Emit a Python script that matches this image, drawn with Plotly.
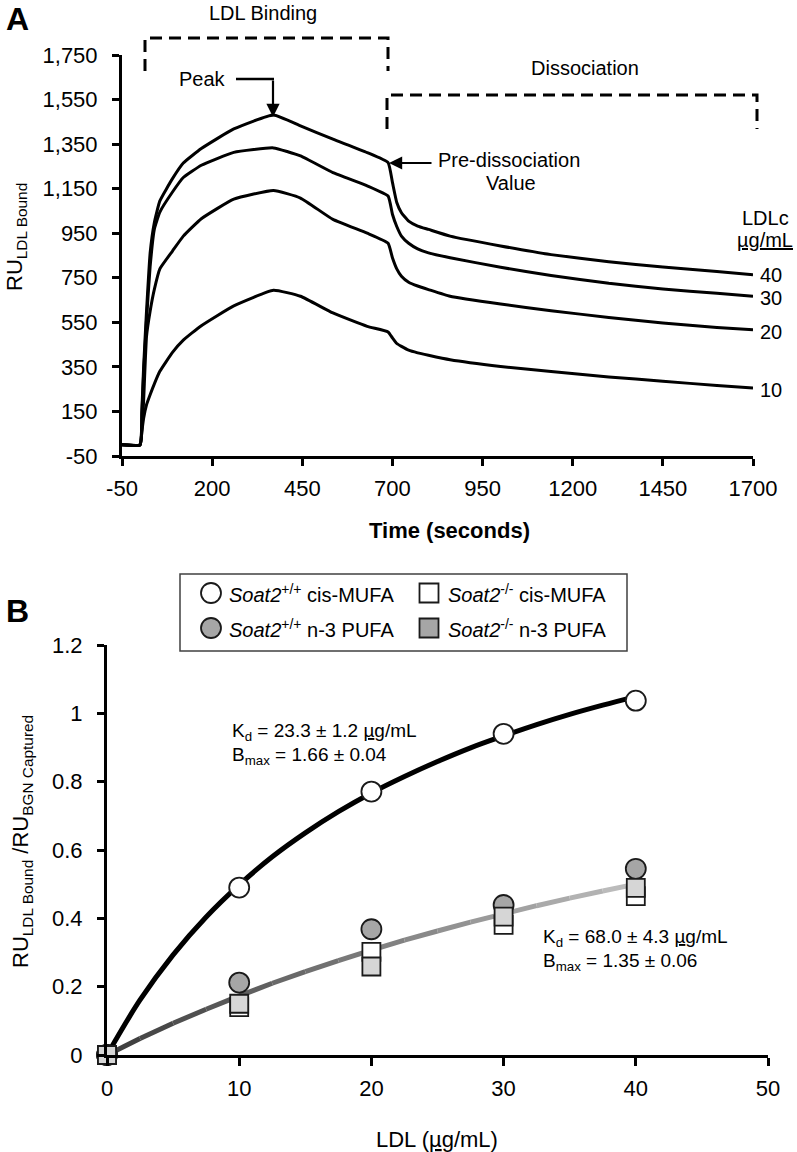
import plotly.graph_objects as go

# ---------------- Panel A data (SPR sensorgrams) ----------------
time_s = [-50, 0, 5, 10, 18, 28, 40, 55, 90, 120, 170, 260, 370, 445, 535, 630, 688,
          700, 712, 725, 745, 770, 800, 860, 1000, 1140, 1300, 1450, 1600, 1700]
ru_40 = [0, 0, 150, 350, 600, 860, 1000, 1095, 1195, 1265, 1330, 1418, 1481, 1432, 1372, 1312, 1267,
         1178, 1088, 1042, 1004, 982, 967, 937, 893, 854, 822, 798, 778, 764]
ru_30 = [0, 0, 130, 320, 560, 800, 970, 1045, 1135, 1200, 1255, 1313, 1333, 1297, 1222, 1163, 1117,
         1035, 980, 937, 905, 880, 862, 840, 797, 760, 725, 700, 680, 667]
ru_20 = [0, 0, 60, 200, 487, 600, 700, 790, 870, 937, 1015, 1103, 1142, 1108, 1012, 950, 905,
         840, 790, 757, 730, 713, 697, 667, 632, 602, 572, 547, 527, 517]
ru_10 = [0, 0, 60, 120, 180, 225, 275, 330, 415, 470, 535, 624, 694, 667, 592, 532, 507,
         480, 455, 442, 425, 413, 402, 382, 352, 329, 305, 286, 266, 255]
conc_labels = ["40", "30", "20", "10"]

time_ticks = [-50, 200, 450, 700, 950, 1200, 1450, 1700]
time_ticktext = ["-50", "200", "450", "700", "950", "1200", "1450", "1700"]
ru_ticks = [-50, 150, 350, 550, 750, 950, 1150, 1350, 1550, 1750]
ru_ticktext = ["-50", "150", "350", "550", "750", "950", "1,150", "1,350", "1,550", "1,750"]

# ---------------- Panel B data (binding) ----------------
ldl = [0, 10, 20, 30, 40]
wt_mufa = [0, 0.49, 0.771, 0.94, 1.037]
wt_pufa = [0, 0.212, 0.368, 0.439, 0.545]
ko_mufa = [0, 0.14, 0.302, 0.381, 0.465]
ko_pufa = [0, 0.15, 0.259, 0.405, 0.489]

fit_x = [0, 2.5, 5, 7.5, 10, 12.5, 15, 17.5, 20, 22.5, 25, 27.5, 30, 32.5, 35, 37.5, 40]
fit_wt = [0, 0.161, 0.293, 0.404, 0.498, 0.580, 0.650, 0.712, 0.767, 0.815, 0.859,
          0.899, 0.934, 0.967, 0.997, 1.024, 1.049]
fit_ko = [0, 0.048, 0.093, 0.134, 0.173, 0.210, 0.244, 0.276, 0.307, 0.336, 0.363,
          0.389, 0.413, 0.437, 0.459, 0.480, 0.500]

W, H = 797, 1152
FONT = "Liberation Sans, Arial, sans-serif"


def px(x):
    return x / W


def py(y):
    return 1 - y / H


fig = go.Figure()

# Panel A curves
for vals in [ru_40, ru_30, ru_20, ru_10]:
    fig.add_trace(go.Scatter(x=time_s, y=vals, mode="lines",
                             line=dict(color="black", width=3, shape="spline", smoothing=0.4),
                             xaxis="x", yaxis="y", showlegend=False, hoverinfo="skip"))

# Panel B fitted curves
fig.add_trace(go.Scatter(x=fit_x, y=fit_wt, mode="lines",
                         line=dict(color="black", width=5, shape="spline"),
                         xaxis="x2", yaxis="y2", showlegend=False, hoverinfo="skip"))
n = len(fit_x)
for i in range(n - 1):
    f = i / (n - 2)
    g = int(0x40 + f * (0xbb - 0x40))
    col = "rgb(%d,%d,%d)" % (g, g, g)
    fig.add_trace(go.Scatter(x=fit_x[i:i + 2], y=fit_ko[i:i + 2], mode="lines",
                             line=dict(color=col, width=5),
                             xaxis="x2", yaxis="y2", showlegend=False, hoverinfo="skip"))

marker_specs = [
    (wt_mufa, "circle", "white", 20),
    (wt_pufa, "circle", "#a6a6a6", 20),
    (ko_mufa, "square", "white", 18),
    (ko_pufa, "square", "#d6d6d6", 18),
]
for vals, sym, colr, sz in marker_specs:
    fig.add_trace(go.Scatter(x=ldl, y=vals, mode="markers", cliponaxis=False,
                             marker=dict(symbol=sym, size=sz, color=colr,
                                         line=dict(color="#1a1a1a", width=1.8)),
                             xaxis="x2", yaxis="y2", showlegend=False, hoverinfo="skip"))

axis_common = dict(showline=True, linecolor="black", ticks="outside", tickcolor="black",
                   showgrid=False, zeroline=False, automargin=False,
                   tickfont=dict(family=FONT, size=22, color="black"))

fig.update_layout(
    template="none",
    width=W, height=H, autosize=False, margin=dict(l=0, r=0, t=0, b=0, pad=0, autoexpand=False),
    paper_bgcolor="white", plot_bgcolor="white", showlegend=False,
    font=dict(family=FONT, color="black"),
    xaxis=dict(domain=[px(122), px(753)], range=[-50, 1700], anchor="y",
               tickmode="array", tickvals=time_ticks, ticktext=time_ticktext,
               linewidth=3, ticklen=7, tickwidth=2.5, ticklabelstandoff=4, **axis_common),
    yaxis=dict(domain=[py(456), py(55)], range=[-50, 1750], anchor="x",
               tickmode="array", tickvals=ru_ticks, ticktext=ru_ticktext,
               linewidth=3, ticklen=7, tickwidth=2.5, ticklabelstandoff=10, **axis_common),
    xaxis2=dict(domain=[px(107), px(768)], range=[0, 50], anchor="y2",
                tickmode="linear", tick0=0, dtick=10,
                linewidth=3, ticklen=8, tickwidth=2.5, ticklabelstandoff=4, **axis_common),
    yaxis2=dict(domain=[py(1055), py(645)], range=[0, 1.2], anchor="x2",
                tickmode="linear", tick0=0, dtick=0.2,
                linewidth=3, ticklen=7, tickwidth=2.5, ticklabelstandoff=10, **axis_common),
)

ann = []


def txt(x, y, text, size=20, xanchor="center", yanchor="middle", textangle=0):
    ann.append(dict(x=px(x), y=py(y), xref="paper", yref="paper", text=text, showarrow=False,
                    xanchor=xanchor, yanchor=yanchor, textangle=textangle,
                    font=dict(family=FONT, size=size, color="black")))


# Panel letters
txt(17, 19, "<b>A</b>", size=32)
txt(17, 611, "<b>B</b>", size=32)

# Panel A texts
txt(263, 13, "LDL Binding", size=20)
txt(585, 68, "Dissociation", size=20)
txt(202, 79, "Peak", size=20)
txt(436, 160, "Pre-dissociation", size=20, xanchor="left")
txt(511, 183, "Value", size=20)
txt(765, 218, "LDLc", size=20)
txt(765, 240, "<u>µg/mL</u>", size=20)
for lab, yy in zip(conc_labels, [275, 298, 332, 390]):
    txt(758, yy, lab, size=20, xanchor="left")
txt(449, 530, "<b>Time (seconds)</b>", size=22)
txt(16, 237, "RU<sub>LDL Bound</sub>", size=22, textangle=-90)

# Arrows
ann.append(dict(x=px(273), y=py(117), xref="paper", yref="paper", text="", showarrow=True,
                ax=0, ay=-38, axref="pixel", ayref="pixel", arrowhead=2, arrowsize=1.2,
                arrowwidth=2.2, arrowcolor="black", standoff=0, startstandoff=0))
ann.append(dict(x=px(389), y=py(163), xref="paper", yref="paper", text="", showarrow=True,
                ax=44, ay=0, axref="pixel", ayref="pixel", arrowhead=2, arrowsize=1.2,
                arrowwidth=2.2, arrowcolor="black", standoff=0, startstandoff=0))

# Panel B texts
txt(230, 732, "K<sub>d</sub> = 23.3 ± 1.2 <u>µ</u>g/mL", size=19, xanchor="left")
txt(230, 756, "B<sub>max</sub> = 1.66 ± 0.04", size=19, xanchor="left")
txt(541, 938, "K<sub>d</sub> = 68.0 ± 4.3 <u>µ</u>g/mL", size=19, xanchor="left")
txt(541, 962, "B<sub>max</sub> = 1.35 ± 0.06", size=19, xanchor="left")
txt(437, 1139, "LDL (<u>µ</u>g/mL)", size=22)
txt(22, 842, "RU<sub>LDL Bound</sub> /RU<sub>BGN Captured</sub>", size=22, textangle=-90)

# Legend texts
txt(227, 593, "<i>Soat2</i><sup>+/+</sup> cis-MUFA", size=20, xanchor="left")
txt(446, 593, "<i>Soat2</i><sup>-/-</sup> cis-MUFA", size=20, xanchor="left")
txt(227, 628, "<i>Soat2</i><sup>+/+</sup> n-3 PUFA", size=20, xanchor="left")
txt(446, 628, "<i>Soat2</i><sup>-/-</sup> n-3 PUFA", size=20, xanchor="left")

fig.update_layout(annotations=ann)

shapes = []
dash = "12px,7px"
# brackets
shapes.append(dict(type="path", xref="paper", yref="paper",
                   path="M %f,%f L %f,%f L %f,%f L %f,%f" % (px(145), py(71), px(145), py(38),
                                                              px(388), py(38), px(388), py(71)),
                   line=dict(color="black", width=3, dash=dash)))
shapes.append(dict(type="path", xref="paper", yref="paper",
                   path="M %f,%f L %f,%f L %f,%f L %f,%f" % (px(387), py(129), px(387), py(95),
                                                              px(757), py(95), px(757), py(129)),
                   line=dict(color="black", width=3, dash=dash)))
# Peak elbow line
shapes.append(dict(type="line", xref="paper", yref="paper", x0=px(236), y0=py(79), x1=px(274), y1=py(79),
                   line=dict(color="black", width=2.5)))
# legend box
shapes.append(dict(type="rect", xref="paper", yref="paper", x0=px(180), y0=py(651), x1=px(627), y1=py(574),
                   line=dict(color="#404040", width=1.5), fillcolor="rgba(0,0,0,0)"))
# legend symbols
for cx, cy, kind, fillc in [(211, 593, "circle", "white"), (211, 628, "circle", "#a6a6a6"),
                            (429, 593, "rect", "white"), (429, 628, "rect", "#a6a6a6")]:
    r = 10 if kind == "circle" else 9.5
    shapes.append(dict(type=kind, xref="paper", yref="paper", x0=px(cx - r), x1=px(cx + r),
                       y0=py(cy + r), y1=py(cy - r), line=dict(color="#1a1a1a", width=1.8),
                       fillcolor=fillc))
fig.update_layout(shapes=shapes)

fig.write_html("out.html", config={"displayModeBar": False, "responsive": False},
               post_script="document.body.style.margin='0';document.body.style.overflow='hidden';")
